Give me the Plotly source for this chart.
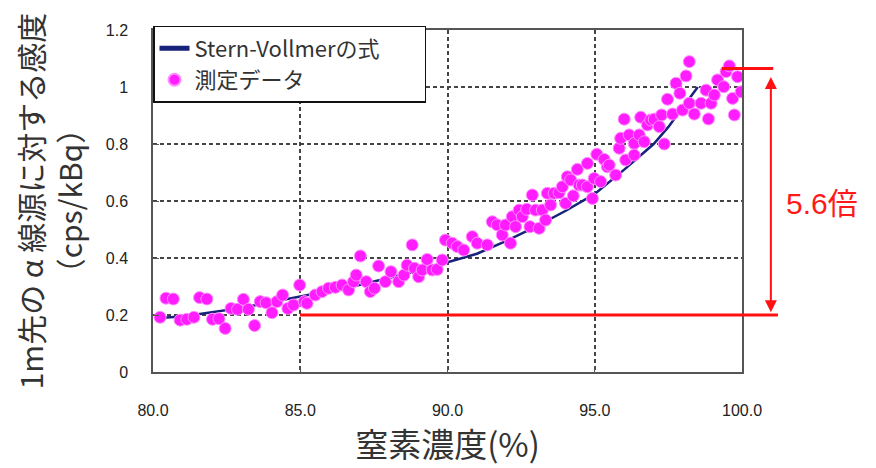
import plotly.graph_objects as go

# Stern-Vollmer curve
sv_x = [80.3, 81, 82, 83, 84, 85, 86, 87, 88, 89, 90, 91, 92, 93, 94, 95, 96, 97, 97.5, 98, 98.5]
sv_y = [0.19, 0.195, 0.21, 0.225, 0.245, 0.265, 0.285, 0.305, 0.33, 0.355, 0.385, 0.415, 0.46, 0.51, 0.565, 0.625, 0.71, 0.80, 0.86, 0.93, 1.0]

meas_x = [80.24, 80.44, 80.69, 80.92, 81.15, 81.39, 81.58, 81.83, 82.02, 82.24, 82.45, 82.65, 82.87, 83.07,
          83.24, 83.45, 83.64, 83.84, 84.04, 84.21, 84.40, 84.58, 84.77, 84.98, 85.14,
          85.23, 85.51, 85.74, 85.96, 86.19, 86.42, 86.64, 86.81, 86.90, 87.04, 87.24, 87.38, 87.52, 87.66,
          87.89, 88.08, 88.34, 88.52, 88.63, 88.80, 88.88, 89.02, 89.14, 89.31, 89.48, 89.65, 89.82, 89.93,
          90.16, 90.33, 90.55, 90.84, 91.01, 91.35, 91.52, 91.69, 91.86, 91.97, 92.14, 92.20, 92.31, 92.43,
          92.54, 92.69, 92.80, 92.88, 92.99, 93.11, 93.22, 93.33, 93.39, 93.50, 93.62, 93.79, 93.90, 94.01,
          94.07, 94.18, 94.27, 94.41, 94.47, 94.58, 94.75, 94.75, 94.92, 94.98, 95.07, 95.20, 95.32, 95.43,
          95.49, 95.71, 95.83, 95.88, 96.00, 96.05, 96.17, 96.34, 96.34, 96.51, 96.56, 96.68, 96.79, 96.90,
          97.02, 97.19, 97.27, 97.36, 97.47, 97.64, 97.76, 97.89, 97.98, 98.10, 98.21, 98.21, 98.38, 98.61,
          98.78, 98.86, 98.95, 99.06, 99.17, 99.38, 99.46, 99.57, 99.68, 99.74, 99.85, 99.97]
meas_y = [0.192, 0.259, 0.256, 0.182, 0.185, 0.192, 0.261, 0.256, 0.185, 0.187, 0.153, 0.223, 0.220, 0.255,
          0.220, 0.163, 0.247, 0.243, 0.208, 0.247, 0.270, 0.223, 0.235, 0.305, 0.247,
          0.241, 0.270, 0.282, 0.294, 0.297, 0.305, 0.288, 0.317, 0.340, 0.407, 0.317, 0.282, 0.294, 0.372,
          0.317, 0.352, 0.317, 0.340, 0.375, 0.446, 0.364, 0.334, 0.358, 0.395, 0.358, 0.360, 0.393, 0.463,
          0.452, 0.440, 0.428, 0.475, 0.452, 0.446, 0.527, 0.516, 0.481, 0.516, 0.452, 0.545, 0.510, 0.568,
          0.545, 0.571, 0.510, 0.621, 0.568, 0.504, 0.568, 0.533, 0.627, 0.586, 0.627, 0.629, 0.650, 0.592,
          0.685, 0.674, 0.618, 0.711, 0.656, 0.656, 0.732, 0.650, 0.609, 0.679, 0.764, 0.668, 0.746, 0.720,
          0.726, 0.691, 0.785, 0.820, 0.887, 0.744, 0.832, 0.802, 0.761, 0.832, 0.894, 0.808, 0.867, 0.884,
          0.887, 0.861, 0.902, 0.800, 0.957, 0.905, 1.013, 0.978, 0.919, 1.039, 1.089, 0.943, 0.905, 0.943,
          0.989, 0.888, 0.943, 0.972, 1.025, 1.001, 1.054, 1.074, 0.960, 0.902, 1.036, 0.983]

x_ticks = [80, 85, 90, 95, 100]
x_tick_labels = ["80.0", "85.0", "90.0", "95.0", "100.0"]
y_ticks = [0, 0.2, 0.4, 0.6, 0.8, 1.0, 1.2]
y_tick_labels = ["0", "0.2", "0.4", "0.6", "0.8", "1", "1.2"]

ratio_low = 0.2
ratio_high = 1.065
ratio_label = "5.6倍"

FONT = "Liberation Sans, Arial, Noto Sans CJK JP, sans-serif"
CJK = "Noto Sans CJK JP, Liberation Sans, sans-serif"
NB = "\u00a0"

fig = go.Figure()
fig.add_trace(go.Scatter(x=sv_x, y=sv_y, mode="lines", name="Stern-Vollmerの式" + NB * 8,
                         line=dict(color="#17227a", width=2.5)))
fig.add_trace(go.Scatter(x=meas_x, y=meas_y, mode="markers", name="測定データ",
                         marker=dict(size=12, color="#ff1cff", line=dict(color="#ff8cff", width=1))))

fig.update_layout(
    width=876, height=468,
    margin=dict(l=145, r=142, t=22, b=104, autoexpand=False),
    paper_bgcolor="white", plot_bgcolor="white",
    font=dict(family=FONT, color="#333333"),
    showlegend=True,
    legend=dict(x=0, y=1.012, xanchor="left", yanchor="top",
                bgcolor="white", bordercolor="#111111", borderwidth=1.5,
                font=dict(family=CJK, size=22, color="#333333"),
                tracegroupgap=0, itemsizing="constant", itemwidth=30),
    xaxis=dict(range=[80, 100], tickvals=x_ticks, ticktext=x_tick_labels, automargin=False,
               showgrid=True, gridcolor="#444444", gridwidth=1.6, griddash="4px,3px",
               showline=True, linecolor="#555555", linewidth=1.5, mirror=True,
               ticks="inside", ticklen=6, tickcolor="#555555",
               zeroline=False, ticklabelstandoff=23,
               tickfont=dict(family=FONT, size=16, color="#222222"),
               title=dict(text="窒素濃度(%)", font=dict(family=CJK, size=33, color="#333333"), standoff=4)),
    yaxis=dict(range=[0, 1.2], tickvals=y_ticks, ticktext=y_tick_labels, automargin=False,
               showgrid=True, gridcolor="#444444", gridwidth=1.6, griddash="4px,3px",
               showline=True, linecolor="#555555", linewidth=1.5, mirror=True,
               ticks="inside", ticklen=6, tickcolor="#555555",
               zeroline=False, ticklabelstandoff=20,
               tickfont=dict(family=FONT, size=16, color="#222222"),
               title=dict(text="1m先の α 線源に対する感度<br>（cps/kBq）",
                          font=dict(family=CJK, size=30, color="#333333"), standoff=28)),
)

# red reference lines
fig.add_shape(type="line", xref="paper", yref="y", x0=0.2496, x1=1.061, y0=ratio_low, y1=ratio_low,
              line=dict(color="#ff1111", width=3))
fig.add_shape(type="line", xref="paper", yref="y", x0=0.966, x1=1.053, y0=ratio_high, y1=ratio_high,
              line=dict(color="#ff1111", width=3))
# double-headed arrow
fig.add_annotation(xref="paper", yref="y", x=1.049, y=ratio_low + 0.01,
                   axref="pixel", ayref="y", ax=0, ay=ratio_high - 0.025,
                   showarrow=True, arrowhead=2, startarrowhead=2, arrowside="end+start",
                   arrowsize=1.2, startarrowsize=1.2, arrowwidth=2, arrowcolor="#ff1111", text="")
fig.add_annotation(xref="paper", yref="y", x=1.136, y=0.593, xanchor="center", yanchor="middle",
                   text=ratio_label, showarrow=False,
                   font=dict(family=FONT, size=30, color="#ff1a1a"))

fig.write_html("out.html")
